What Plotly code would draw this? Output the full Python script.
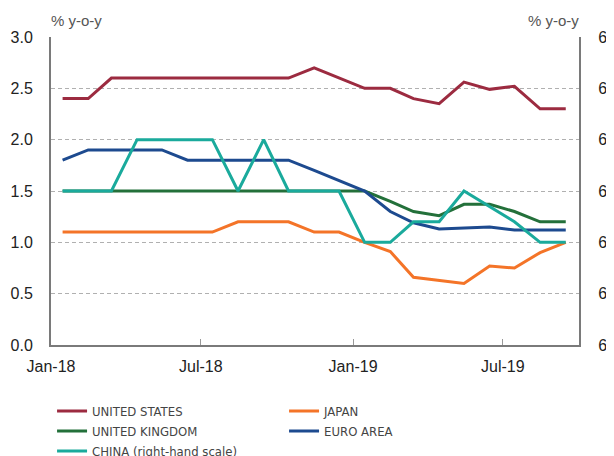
import pandas as pd
import plotly.graph_objects as go

months = pd.date_range("2018-01-01", periods=21, freq="MS") + pd.Timedelta(days=14)

us = [2.4, 2.4, 2.6, 2.6, 2.6, 2.6, 2.6, 2.6, 2.6, 2.6, 2.7, 2.6, 2.5, 2.5, 2.4, 2.35, 2.56, 2.49, 2.52, 2.3, 2.3]
japan = [1.1, 1.1, 1.1, 1.1, 1.1, 1.1, 1.1, 1.2, 1.2, 1.2, 1.1, 1.1, 1.0, 0.91, 0.66, 0.63, 0.6, 0.77, 0.75, 0.9, 1.0]
uk = [1.5, 1.5, 1.5, 1.5, 1.5, 1.5, 1.5, 1.5, 1.5, 1.5, 1.5, 1.5, 1.5, 1.4, 1.3, 1.26, 1.37, 1.37, 1.3, 1.2, 1.2]
euro = [1.8, 1.9, 1.9, 1.9, 1.9, 1.8, 1.8, 1.8, 1.8, 1.8, 1.7, 1.6, 1.5, 1.3, 1.19, 1.13, 1.14, 1.15, 1.12, 1.12, 1.12]
china = [6.3, 6.3, 6.3, 6.4, 6.4, 6.4, 6.4, 6.3, 6.4, 6.3, 6.3, 6.3, 6.2, 6.2, 6.24, 6.24, 6.3, 6.27, 6.24, 6.2, 6.2]

left_ticks = [0.0, 0.5, 1.0, 1.5, 2.0, 2.5, 3.0]
right_ticks = [6.0, 6.1, 6.2, 6.3, 6.4, 6.5, 6.6]
x_ticks = ["2018-01-01", "2018-07-01", "2019-01-01", "2019-07-01"]
x_labels = ["Jan-18", "Jul-18", "Jan-19", "Jul-19"]

series = [
    ("UNITED STATES", us, "#9c2b40", "y"),
    ("JAPAN", japan, "#f47428", "y"),
    ("UNITED KINGDOM", uk, "#23703a", "y"),
    ("EURO AREA", euro, "#1d4a8f", "y"),
    ("CHINA (right-hand scale)", china, "#1aaa9c", "y2"),
]

fig = go.Figure()
for name, vals, color, ax in series:
    fig.add_trace(go.Scatter(x=months, y=vals, name=name, mode="lines",
                             line=dict(color=color, width=3), yaxis=ax))

tickfont = dict(family="Liberation Sans, Arial, sans-serif", size=16, color="#222222")
fig.update_layout(
    width=606, height=448,
    margin=dict(l=43, r=35, t=29, b=111, autoexpand=False),
    paper_bgcolor="white", plot_bgcolor="white",
    showlegend=True,
    legend=dict(orientation="h", x=0.002, xanchor="left", y=-0.166, yanchor="top",
                entrywidth=187, entrywidthmode="pixels", traceorder="normal",
                font=dict(family="Liberation Sans Narrow, DejaVu Sans Condensed, Liberation Sans, Arial, sans-serif",
                          size=13, color="#444444"),
                tracegroupgap=0, itemwidth=30),
    xaxis=dict(type="date", range=["2018-01-01", "2019-10-01"], tickvals=x_ticks,
               ticktext=x_labels, ticks="inside", ticklen=6, tickcolor="#999999",
               showline=True, linecolor="#7a7a7a", linewidth=2, showgrid=False,
               zeroline=False, tickfont=tickfont, ticklabelstandoff=6, automargin=False),
    yaxis=dict(range=[0, 3], tickvals=left_ticks, tickformat=".1f", showline=True,
               linecolor="#7a7a7a", linewidth=2, showgrid=True, gridcolor="#b0b0b0",
               griddash="4px,3px", gridwidth=1, zeroline=False, tickfont=tickfont,
               ticks="", ticklabelstandoff=13, automargin=False),
    yaxis2=dict(range=[6.0, 6.6], tickvals=right_ticks, tickformat=".1f", overlaying="y",
                side="right", showline=True, linecolor="#7a7a7a", linewidth=2,
                showgrid=False, zeroline=False, tickfont=tickfont, ticks="",
                ticklabelstandoff=14, ticklabeloverflow="allow", automargin=False),
    annotations=[
        dict(text="% y-o-y", xref="paper", yref="paper", x=-0.004, y=1.052,
             xanchor="left", yanchor="middle", showarrow=False,
             font=dict(family="Liberation Sans, Arial, sans-serif", size=15, color="#555555")),
        dict(text="% y-o-y", xref="paper", yref="paper", x=1.004, y=1.052,
             xanchor="right", yanchor="middle", showarrow=False,
             font=dict(family="Liberation Sans, Arial, sans-serif", size=15, color="#555555")),
    ],
)

fig.write_html("out.html")
